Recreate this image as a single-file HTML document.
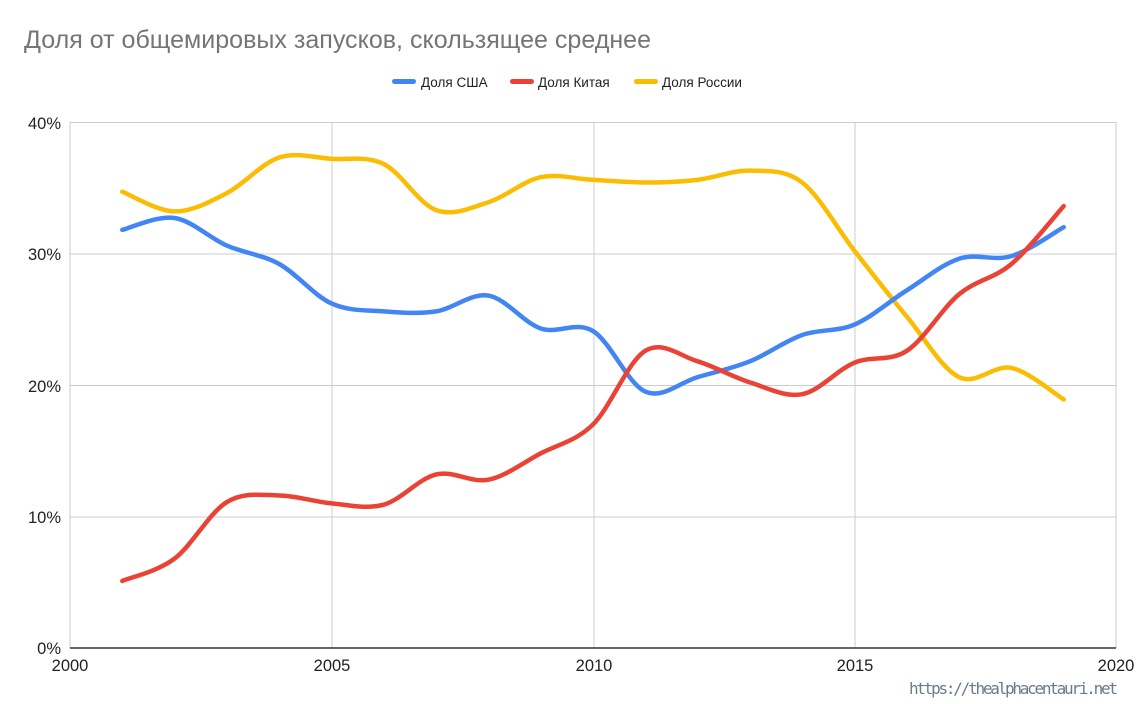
<!DOCTYPE html>
<html><head><meta charset="utf-8"><style>
body{margin:0;background:#fff;width:1143px;height:699px;overflow:hidden;font-family:"Liberation Sans",Arial,sans-serif}
</style></head><body>
<svg id="s" width="1143" height="699" xmlns="http://www.w3.org/2000/svg" font-family="Liberation Sans, Arial, sans-serif">
<rect width="1143" height="699" fill="#fff"/>
<text x="24" y="48" font-size="25" fill="#757575" textLength="627" lengthAdjust="spacingAndGlyphs">Доля от общемировых запусков, скользящее среднее</text>
<g font-size="13.5" fill="#222">
<rect x="392" y="79" width="24" height="5" rx="2.5" fill="#4285f4"/><text x="421" y="87">Доля США</text>
<rect x="510" y="79" width="24" height="5" rx="2.5" fill="#ea4335"/><text x="538" y="87">Доля Китая</text>
<rect x="634" y="79" width="24" height="5" rx="2.5" fill="#fbbc04"/><text x="662" y="87">Доля России</text>
</g>
<g stroke="#ccc" stroke-width="1">
<line x1="70" y1="122.5" x2="1116" y2="122.5"/><line x1="70" y1="254" x2="1116" y2="254"/>
<line x1="70" y1="385.5" x2="1116" y2="385.5"/><line x1="70" y1="517" x2="1116" y2="517"/>
<line x1="70" y1="122" x2="70" y2="648"/>
<line x1="332" y1="122" x2="332" y2="648"/><line x1="594" y1="122" x2="594" y2="648"/>
<line x1="855" y1="122" x2="855" y2="648"/><line x1="1116" y1="122" x2="1116" y2="648"/>
</g>
<line x1="70" y1="648" x2="1116" y2="648" stroke="#333" stroke-width="1.5"/>
<g font-size="16.5" fill="#222" text-anchor="end">
<text x="61" y="129">40%</text><text x="61" y="260">30%</text><text x="61" y="392">20%</text><text x="61" y="523">10%</text><text x="61" y="654">0%</text>
</g>
<g font-size="16.5" fill="#222" text-anchor="middle">
<text x="70" y="671">2000</text><text x="332" y="671">2005</text><text x="594" y="671">2010</text><text x="855" y="671">2015</text><text x="1116" y="671">2020</text>
</g>
<text x="1118" y="694" font-size="16" fill="#6b7a8c" text-anchor="end" font-family="DejaVu Sans Mono, Liberation Mono, monospace" textLength="209">https://thealphacentauri.net</text>
<g id="lines" fill="none" stroke-width="4.5" stroke-linejoin="round" stroke-linecap="round"></g>
</svg>
<script>
var d={"#fbbc04":[34.7,33.2,34.6,37.3,37.2,36.8,33.3,33.9,35.8,35.6,35.4,35.6,36.3,35.4,30.2,25.2,20.6,21.3,18.9],
"#4285f4":[31.8,32.7,30.6,29.2,26.2,25.6,25.6,26.8,24.3,24.1,19.5,20.6,21.8,23.8,24.6,27.2,29.6,29.8,32.0],
"#ea4335":[5.1,6.8,11.1,11.6,11.0,10.9,13.2,12.8,14.8,17.0,22.6,21.8,20.2,19.3,21.7,22.6,26.9,29.2,33.6]};
var order=["#fbbc04","#4285f4","#ea4335"],g=document.getElementById("lines");
order.forEach(function(c){var v=d[c],p=v.map(function(y,i){return [70+52.3*(i+1),648-y*13.15]});
var s="M"+p[0][0]+","+p[0][1];
for(var i=0;i<p.length-1;i++){var a=p[i-1]||p[i],b=p[i],e=p[i+1],f=p[i+2]||e;
s+=" C"+(b[0]+(e[0]-a[0])/6)+","+(b[1]+(e[1]-a[1])/6)+" "+(e[0]-(f[0]-b[0])/6)+","+(e[1]-(f[1]-b[1])/6)+" "+e[0]+","+e[1];}
var el=document.createElementNS("http://www.w3.org/2000/svg","path");el.setAttribute("d",s);el.setAttribute("stroke",c);g.appendChild(el);});
</script>
</body></html>
